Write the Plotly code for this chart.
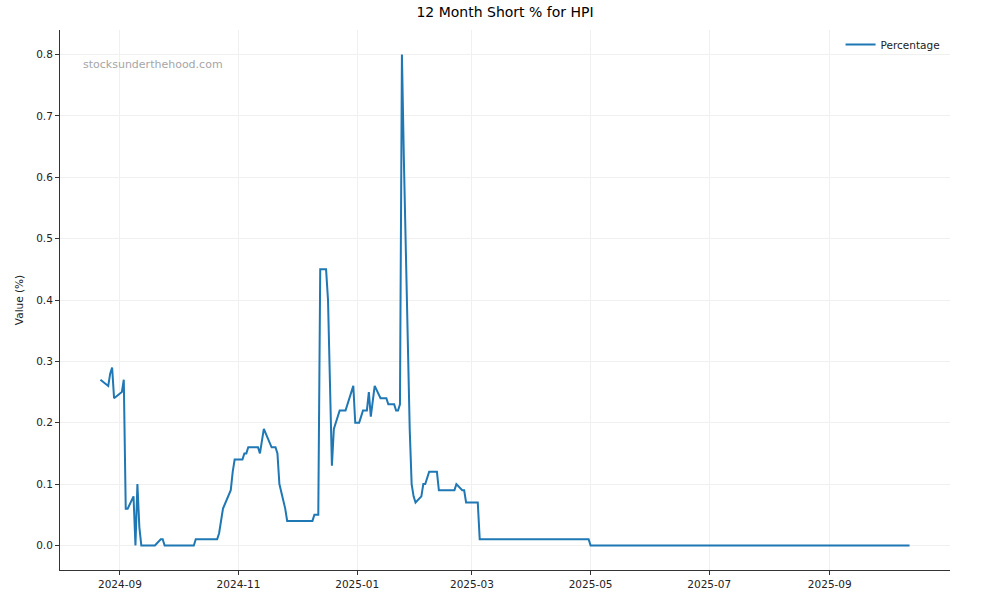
import pandas as pd
import plotly.graph_objects as go

# ---- data ----
dates = [
    "2024-08-22", "2024-08-26", "2024-08-27", "2024-08-28", "2024-08-29",
    "2024-09-02", "2024-09-03", "2024-09-04", "2024-09-05", "2024-09-08",
    "2024-09-09", "2024-09-10", "2024-09-11", "2024-09-12", "2024-09-19",
    "2024-09-22", "2024-09-23", "2024-09-24", "2024-10-09", "2024-10-10",
    "2024-10-21", "2024-10-22", "2024-10-24", "2024-10-28", "2024-10-29",
    "2024-10-30", "2024-11-03", "2024-11-04", "2024-11-05", "2024-11-06",
    "2024-11-11", "2024-11-12", "2024-11-14", "2024-11-18", "2024-11-20",
    "2024-11-21", "2024-11-22", "2024-11-25", "2024-11-26", "2024-12-09",
    "2024-12-10", "2024-12-12", "2024-12-13", "2024-12-16", "2024-12-17",
    "2024-12-18", "2024-12-19", "2024-12-20", "2024-12-23", "2024-12-26",
    "2024-12-30", "2024-12-31", "2025-01-02", "2025-01-03", "2025-01-04",
    "2025-01-06", "2025-01-07", "2025-01-08", "2025-01-10", "2025-01-13",
    "2025-01-16", "2025-01-17", "2025-01-20", "2025-01-21", "2025-01-22",
    "2025-01-23", "2025-01-24", "2025-01-25", "2025-01-26", "2025-01-27",
    "2025-01-28", "2025-01-29", "2025-01-30", "2025-01-31", "2025-02-03",
    "2025-02-04", "2025-02-05", "2025-02-07", "2025-02-11", "2025-02-12",
    "2025-02-20", "2025-02-21", "2025-02-24", "2025-02-25", "2025-02-26",
    "2025-03-04", "2025-03-05", "2025-04-30", "2025-05-01", "2025-10-12",
]
percentage = [
    0.27, 0.26, 0.28, 0.29, 0.24,
    0.25, 0.27, 0.06, 0.06, 0.08,
    0.00, 0.10, 0.03, 0.00, 0.00,
    0.01, 0.01, 0.00, 0.00, 0.01,
    0.01, 0.02, 0.06, 0.09, 0.12,
    0.14, 0.14, 0.15, 0.15, 0.16,
    0.16, 0.15, 0.19, 0.16, 0.16,
    0.15, 0.10, 0.06, 0.04, 0.04,
    0.05, 0.05, 0.45, 0.45, 0.40,
    0.27, 0.13, 0.19, 0.22, 0.22,
    0.26, 0.20, 0.20, 0.21, 0.22,
    0.22, 0.25, 0.21, 0.26, 0.24,
    0.24, 0.23, 0.23, 0.22, 0.22,
    0.23, 0.80, 0.63, 0.47, 0.30,
    0.19, 0.10, 0.08, 0.07, 0.08,
    0.10, 0.10, 0.12, 0.12, 0.09,
    0.09, 0.10, 0.09, 0.09, 0.07,
    0.07, 0.01, 0.01, 0.00, 0.00,
]
y_ticks = [0.0, 0.1, 0.2, 0.3, 0.4, 0.5, 0.6, 0.7, 0.8]
x_ticks = ["2024-09-01", "2024-11-01", "2025-01-01", "2025-03-01",
           "2025-05-01", "2025-07-01", "2025-09-01"]

title_text = "12 Month Short % for HPI"
series_name = "Percentage"
y_label = "Value (%)"
watermark = "stocksunderthehood.com"

# ---- figure ----
d = pd.to_datetime(dates)
span = d.max() - d.min()
x_range = [d.min() - span * 0.05, d.max() + span * 0.05]
ymax = max(percentage)
y_range = [-0.05 * ymax, ymax * 1.05]

FONT = "DejaVu Sans"
AX = "#333333"
GRID = "#f0f0f0"
W, H = 1000, 600

fig = go.Figure()
fig.add_trace(go.Scatter(
    x=d, y=percentage, mode="lines", name=series_name,
    line=dict(color="#1f77b4", width=2),
    showlegend=True,
))

fig.update_layout(
    width=W, height=H,
    margin=dict(l=60, r=50, t=30, b=30),
    paper_bgcolor="white", plot_bgcolor="white",
    font=dict(family=FONT, size=10.5, color="#222222"),
    title=dict(text=title_text, x=0.5, xref="paper", xanchor="center",
               y=1 - 12 / H, yref="container", yanchor="middle",
               font=dict(family=FONT, size=14, color="black")),
    showlegend=True,
    legend=dict(x=0.995, y=1.0, xanchor="right", yanchor="top",
                bgcolor="rgba(255,255,255,0)", borderwidth=0,
                font=dict(family=FONT, size=10.5, color="#222222"),
                itemwidth=30),
)

fig.update_xaxes(
    range=x_range, type="date", automargin=False,
    tickvals=pd.to_datetime(x_ticks), tickformat="%Y-%m",
    showline=True, linecolor=AX, linewidth=1, mirror=False,
    ticks="outside", ticklen=4, tickcolor=AX, tickwidth=1,
    showgrid=True, gridcolor=GRID, gridwidth=1, zeroline=False,
    tickfont=dict(family=FONT, size=10.5, color="#222222"),
)
fig.update_yaxes(
    range=y_range, tickvals=y_ticks, tickformat=".1f", automargin=False,
    showline=True, linecolor=AX, linewidth=1, mirror=False,
    ticks="outside", ticklen=4, tickcolor=AX, tickwidth=1,
    showgrid=True, gridcolor=GRID, gridwidth=1, zeroline=False,
    title=dict(text=y_label, standoff=10, font=dict(family=FONT, size=10.5, color="#222222")),
    tickfont=dict(family=FONT, size=10.5, color="#222222"),
)

fig.add_annotation(
    text=watermark, xref="paper", yref="paper",
    x=21 / 890, y=1 - 35 / 540, xanchor="left", yanchor="middle",
    showarrow=False, font=dict(family=FONT, size=11, color="#a6a6a6"),
)

fig.write_html("out.html", config={"displayModeBar": False},
               post_script="document.body.style.margin='0px';")
